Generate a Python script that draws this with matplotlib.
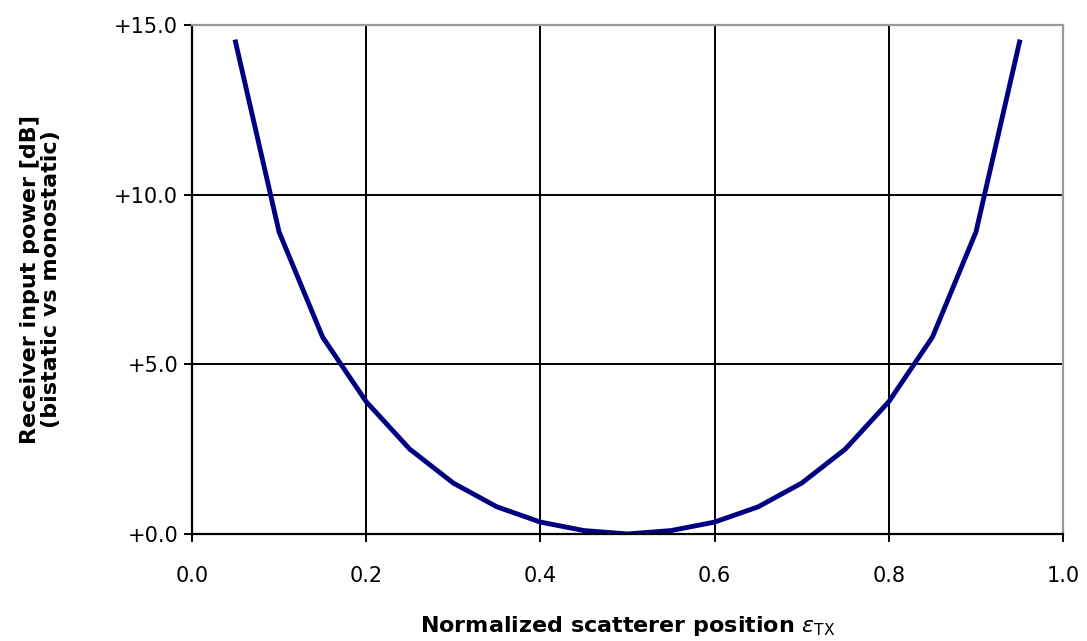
import matplotlib
matplotlib.use("Agg")
import matplotlib.pyplot as plt

# -----------------------------
# Data
# -----------------------------
position = [0.05, 0.10, 0.15, 0.20, 0.25, 0.30, 0.35, 0.40, 0.45, 0.50,
            0.55, 0.60, 0.65, 0.70, 0.75, 0.80, 0.85, 0.90, 0.95]
power_db = [14.5, 8.9, 5.8, 3.9, 2.5, 1.5, 0.8, 0.35, 0.1, 0.0,
            0.1, 0.35, 0.8, 1.5, 2.5, 3.9, 5.8, 8.9, 14.5]

x_ticks = [0.0, 0.2, 0.4, 0.6, 0.8, 1.0]
y_ticks = [0.0, 5.0, 10.0, 15.0]

# -----------------------------
# Figure
# -----------------------------
fig = plt.figure(figsize=(10.87, 6.41), dpi=100)
ax = fig.add_axes([0.1766, 0.167, 0.9780 - 0.1766, 0.961 - 0.167])

ax.plot(position, power_db, color="#000080", linewidth=3.5, solid_joinstyle="miter")

ax.set_xlim(0, 1)
ax.set_ylim(0, 15)
ax.set_xticks(x_ticks)
ax.set_yticks(y_ticks)
ax.set_xticklabels([f"{v:.1f}" for v in x_ticks])
ax.set_yticklabels([f"+{v:.1f}" for v in y_ticks])

ax.grid(True, color="black", linewidth=1.4)
ax.set_axisbelow(True)

for side in ["left", "bottom"]:
    ax.spines[side].set_color("black")
    ax.spines[side].set_linewidth(1.6)
for side in ["top", "right"]:
    ax.spines[side].set_color("#999999")
    ax.spines[side].set_linewidth(1.6)

ax.tick_params(direction="inout", length=12, width=1.4, labelsize=15,
               colors="black", pad=4)
ax.tick_params(axis="x", pad=17)

label_font = ["Liberation Sans Narrow", "DejaVu Sans"]
ax.set_ylabel("Receiver input power [dB]\n(bistatic vs monostatic)",
              fontsize=16, fontweight="bold", family=label_font,
              linespacing=1.1, labelpad=38)
ax.set_xlabel(r"Normalized scatterer position $\varepsilon_{\mathrm{TX}}$",
              fontsize=16, fontweight="bold", family=label_font, labelpad=20)

plt.savefig("out.png", dpi=100)
plt.close()
